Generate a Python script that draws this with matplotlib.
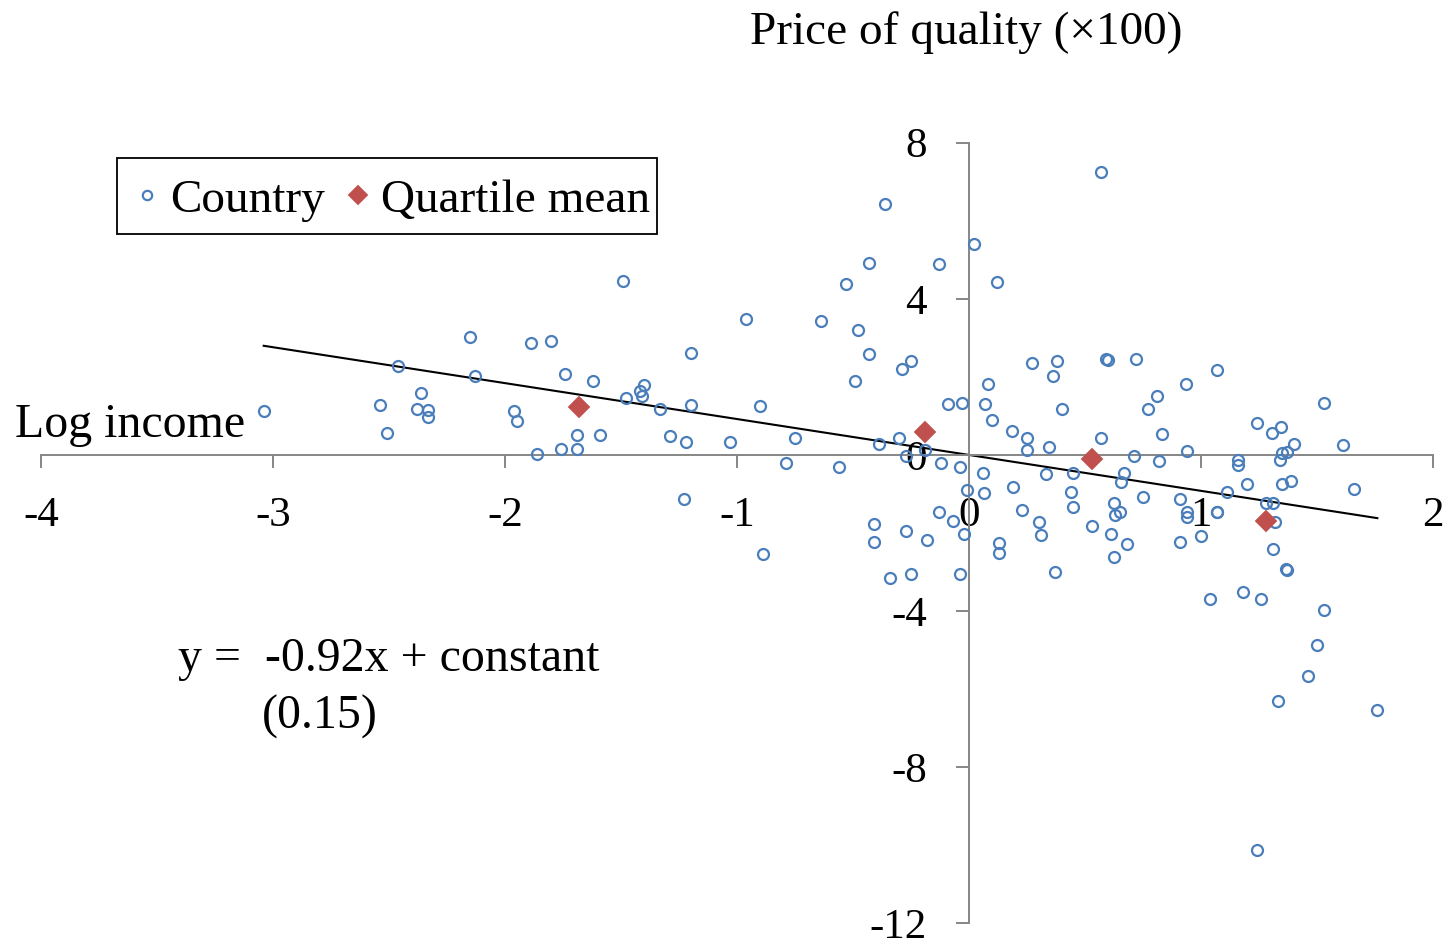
import numpy as np
import matplotlib
matplotlib.use("Agg")
import matplotlib.pyplot as plt
from matplotlib.patches import Rectangle

plt.rcParams["font.family"] = ["Liberation Serif", "DejaVu Serif"]
plt.rcParams["axes.unicode_minus"] = False

# Country observations: log income (x) and price of quality x100 (y)
log_income = [
    -3.04, -2.54, -2.51, -2.46, -2.38, -2.36, -2.33, -2.33, -2.15, -2.13,
    -1.96, -1.95, -1.89, -1.86, -1.80, -1.76, -1.74, -1.69, -1.69, -1.62,
    -1.59, -1.49, -1.48, -1.42, -1.41, -1.40, -1.33, -1.29, -1.22, -1.20,
    -1.20, -1.23, -1.03, -0.96, -0.90, -0.89, -0.79, -0.75, -0.64, -0.56,
    -0.53, -0.49, -0.48, -0.43, -0.43, -0.41, -0.41, -0.39, -0.36, -0.34,
    -0.30, -0.29, -0.27, -0.27, -0.25, -0.25, -0.19, -0.18, -0.13, -0.13,
    -0.12, -0.09, -0.07, -0.04, -0.03, -0.04, -0.02, -0.01, 0.02, 0.06,
    0.065, 0.07, 0.08, 0.10, 0.12, 0.13, 0.13, 0.185, 0.19, 0.23,
    0.25, 0.25, 0.27, 0.30, 0.31, 0.33, 0.345, 0.36, 0.37, 0.38,
    0.40, 0.44, 0.45, 0.45, 0.53, 0.57, 0.57, 0.59, 0.60, 0.61,
    0.625, 0.625, 0.63, 0.65, 0.655, 0.67, 0.68, 0.71, 0.72, 0.75,
    0.77, 0.81, 0.82, 0.83, 0.91, 0.91, 0.935, 0.94, 0.94, 0.94,
    1.00, 1.04, 1.07, 1.07, 1.07, 1.11, 1.16, 1.16, 1.18, 1.20,
    1.24, 1.24, 1.26, 1.28, 1.305, 1.31, 1.31, 1.32, 1.33, 1.34,
    1.345, 1.35, 1.35, 1.365, 1.37, 1.37, 1.39, 1.40, 1.46, 1.50,
    1.53, 1.53, 1.61, 1.66, 1.76,
]
price_of_quality = [
    1.13, 1.28, 0.55, 2.27, 1.17, 1.58, 1.14, 0.96, 3.02, 2.02,
    1.12, 0.87, 2.86, 0.02, 2.91, 0.16, 2.07, 0.52, 0.15, 1.90,
    0.50, 4.46, 1.47, 1.64, 1.52, 1.79, 1.17, 0.48, 0.34, 1.27,
    2.60, -1.12, 0.34, 3.49, 1.25, -2.53, -0.20, 0.43, 3.42, -0.31,
    4.39, 1.89, 3.21, 4.92, 2.58, -2.22, -1.76, 0.28, 6.42, -3.16,
    0.43, 2.19, -1.96, -0.03, 2.40, -3.06, 0.13, -2.17, 4.90, -1.45,
    -0.20, 1.30, -1.68, -0.31, 1.33, -3.04, -2.02, -0.91, 5.41, -0.46,
    -0.97, 1.31, 1.81, 0.90, 4.42, -2.26, -2.52, 0.61, -0.83, -1.40,
    0.44, 0.13, 2.35, -1.73, -2.04, -0.48, 0.21, 2.02, -3.01, 2.40,
    1.17, -0.94, -0.46, -1.34, -1.83, 0.43, 7.24, 2.45, 2.43, -2.02,
    -1.22, -2.62, -1.55, -1.47, -0.69, -0.46, -2.29, -0.02, 2.45, -1.09,
    1.17, 1.51, -0.15, 0.54, -1.12, -2.24, 1.81, 0.10, -1.47, -1.59,
    -2.07, -3.69, -1.47, -1.45, 2.17, -0.94, -0.13, -0.27, -3.52, -0.74,
    0.82, -10.12, -3.69, -1.22, 0.57, -2.42, -1.22, -1.73, -6.30, -0.13,
    0.71, 0.06, -0.74, -2.91, 0.08, -2.96, -0.66, 0.29, -5.66, -4.87,
    1.33, -3.98, 0.26, -0.87, -6.53,
]

# Means within income quartiles
quartile_income = [-1.68, -0.19, 0.53, 1.28]
quartile_price = [1.23, 0.59, -0.10, -1.68]

# Fitted regression line
slope = -0.92
slope_se = 0.15
intercept = 0.0

x_ticks = [-4, -3, -2, -1, 0, 1, 2]
y_ticks = [-12, -8, -4, 0, 4, 8]

W, H = 1453, 943
fig = plt.figure(figsize=(W / 100, H / 100), dpi=100)
ax = fig.add_axes([41 / W, 19.7 / H, 1392 / W, 780.6 / H])
ax.set_xlim(-4, 2)
ax.set_ylim(-12, 8)

axis_grey = "#868686"
for side in ("top", "right"):
    ax.spines[side].set_visible(False)
for side in ("left", "bottom"):
    ax.spines[side].set_position(("data", 0))
    ax.spines[side].set_color(axis_grey)
    ax.spines[side].set_linewidth(1.4)

ax.set_xticks(x_ticks)
ax.set_yticks(y_ticks)
ax.tick_params(axis="x", direction="out", length=9.4, width=1.4,
               color=axis_grey, labelsize=31, pad=20.5)
ax.tick_params(axis="y", direction="out", length=9.4, width=1.4,
               color=axis_grey, labelsize=31, pad=21)

blue = "#4A7EBB"
red = "#C0504D"

xl = np.array([min(log_income), max(log_income)])
ax.plot(xl, slope * xl + intercept, color="black", lw=1.5, zorder=2)

countries, = ax.plot(log_income, price_of_quality, linestyle="none",
                     marker="o", ms=7.9, mfc="none", mec=blue, mew=1.6,
                     zorder=3, clip_on=False)
quartiles, = ax.plot(quartile_income, quartile_price, linestyle="none",
                     marker="D", ms=11.5, mfc=red, mec=red, mew=0.3,
                     zorder=4)

# Legend entries in one row, with a plain square frame around them
leg = ax.legend([countries, quartiles], ["Country", "Quartile mean"],
                loc="center left", bbox_to_anchor=(127 / W, 1 - 200 / H),
                bbox_transform=fig.transFigure, ncol=2, frameon=False,
                borderpad=0, handlelength=0.85, handletextpad=0.06,
                columnspacing=0.28, borderaxespad=0, markerscale=0.85,
                prop={"size": 34})
fig.patches.append(Rectangle((117 / W, 1 - 234 / H), 540 / W, 76 / H,
                             transform=fig.transFigure, fill=False,
                             edgecolor="black", linewidth=1.3))

fig.text(966.5 / W, 1 - 44 / H, "Price of quality (\u00d7100)",
         ha="center", va="baseline", fontsize=34)
fig.text(15 / W, 1 - 437 / H, "Log income", ha="left", va="baseline",
         fontsize=34.5)
fig.text(178 / W, 1 - 671 / H, f"y =  {slope:.2f}x + constant",
         ha="left", va="baseline", fontsize=34.5)
fig.text(262 / W, 1 - 729 / H, f"({slope_se:.2f})",
         ha="left", va="baseline", fontsize=34.5)

fig.savefig("out.png", dpi=100)
